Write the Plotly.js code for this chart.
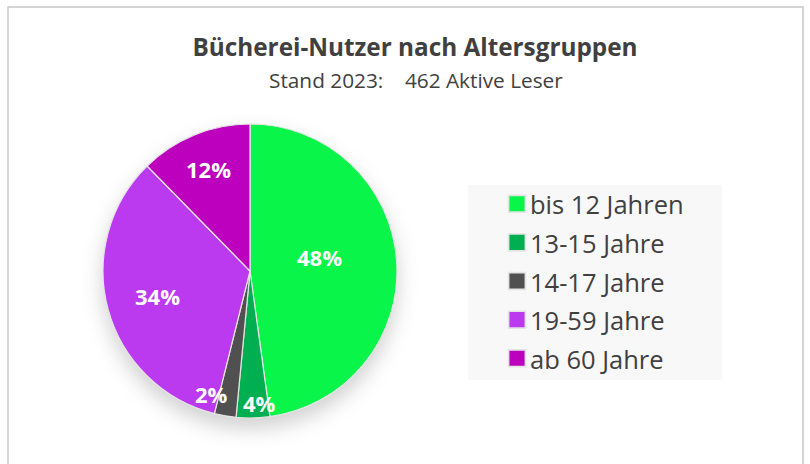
<!DOCTYPE html>
<html>
<head>
<meta charset="utf-8">
<script src="https://cdn.plot.ly/plotly-3.0.1.min.js"></script>
<style>
  html, body { margin: 0; padding: 0; background: #ffffff; }
  #chart { width: 810px; height: 464px; }
  .pielayer { filter: drop-shadow(0px 10px 10px rgba(0,0,0,0.18)); }
</style>
</head>
<body>
<div id="chart"></div>
<script>
// ---- data ----
const categories = ['bis 12 Jahren', '13-15 Jahre', '14-17 Jahre', '19-59 Jahre', 'ab 60 Jahre'];
const readers = [221, 17, 11, 156, 57];
const sliceColors = ['#0AF54A', '#00AF50', '#505050', '#BB3AF0', '#BD00BD'];
const chartTitle = 'Bücherei-Nutzer nach Altersgruppen';
const chartSubtitle = 'Stand 2023:\u00A0\u00A0\u00A0\u00A0462 Aktive Leser';

// ---- layout constants (pixels) ----
const W = 810, H = 464;
const FONT = '"Open Sans", sans-serif';
const pieLeft = 103, pieRight = 397, pieTop = 124, pieBottom = 418;
const cx = (pieLeft + pieRight) / 2, cy = (pieTop + pieBottom) / 2, R = (pieRight - pieLeft) / 2;
// label placement style per slice: radius fraction and angular nudge (deg)
const labelRadius = [0.48, 0.90, 0.88, 0.65, 0.75];
const labelNudge = [-7.5, -3, 7.6, 0, 0];

const total = readers.reduce((a, b) => a + b, 0);
const annotations = [];
let cum = 0;
readers.forEach((v, i) => {
  const frac = v / total;
  const mid = (cum + frac / 2) * 360 + labelNudge[i];
  cum += frac;
  const th = mid * Math.PI / 180;
  const px = cx + labelRadius[i] * R * Math.sin(th);
  const py = cy - labelRadius[i] * R * Math.cos(th);
  annotations.push({
    xref: 'paper', yref: 'paper', x: px / W, y: 1 - py / H,
    xanchor: 'center', yanchor: 'middle', showarrow: false,
    text: '<b>' + Math.round(frac * 100) + '%</b>',
    font: { family: FONT, size: 22, color: '#ffffff' }
  });
});

annotations.push({
  xref: 'paper', yref: 'paper', x: 416 / W, y: 1 - 80 / H,
  xanchor: 'center', yanchor: 'middle', showarrow: false,
  text: chartSubtitle,
  font: { family: FONT, size: 20.8, color: '#404040' }
});

const trace = {
  type: 'pie',
  labels: categories.map(c => '<span style="font-size:25.5px">' + c + '</span>'),
  values: readers,
  marker: { colors: sliceColors, line: { color: '#E4E4E4', width: 1.2 } },
  sort: false,
  direction: 'clockwise',
  rotation: 0,
  textinfo: 'none',
  hoverinfo: 'label+percent',
  domain: { x: [pieLeft / W, pieRight / W], y: [1 - pieBottom / H, 1 - pieTop / H] }
};

const layout = {
  width: W, height: H,
  margin: { l: 0, r: 0, t: 0, b: 0 },
  paper_bgcolor: '#ffffff',
  title: {
    text: '<b>' + chartTitle + '</b>',
    x: 415 / W, xanchor: 'center', xref: 'paper',
    y: 1 - 47 / H, yanchor: 'middle', yref: 'paper',
    font: { family: FONT, size: 24.3, color: '#404040' }
  },
  showlegend: true,
  legend: {
    x: 490 / W, xanchor: 'left', y: 1 - 179.5 / H, yanchor: 'top',
    bgcolor: 'rgba(0,0,0,0)', borderwidth: 0,
    font: { family: FONT, size: 27.4, color: '#404040' },
    traceorder: 'normal'
  },
  shapes: [
    { type: 'rect', xref: 'paper', yref: 'paper', layer: 'below',
      x0: 468 / W, x1: 722 / W, y0: 1 - 380 / H, y1: 1 - 185 / H,
      fillcolor: '#F8F8F8', line: { width: 0 } },
    { type: 'rect', xref: 'paper', yref: 'paper', layer: 'below',
      x0: 8 / W, x1: 803 / W, y0: -0.05, y1: 1 - 7 / H,
      fillcolor: 'rgba(0,0,0,0)', line: { color: '#C8C8C8', width: 1.5 } }
  ],
  annotations: annotations
};

Plotly.newPlot('chart', [trace], layout, { displayModeBar: false, staticPlot: true }).then(() => {
  document.querySelectorAll('.legendpoints path').forEach(p => {
    p.setAttribute('transform', 'translate(27,0) scale(1.4)');
  });
});
</script>
</body>
</html>
